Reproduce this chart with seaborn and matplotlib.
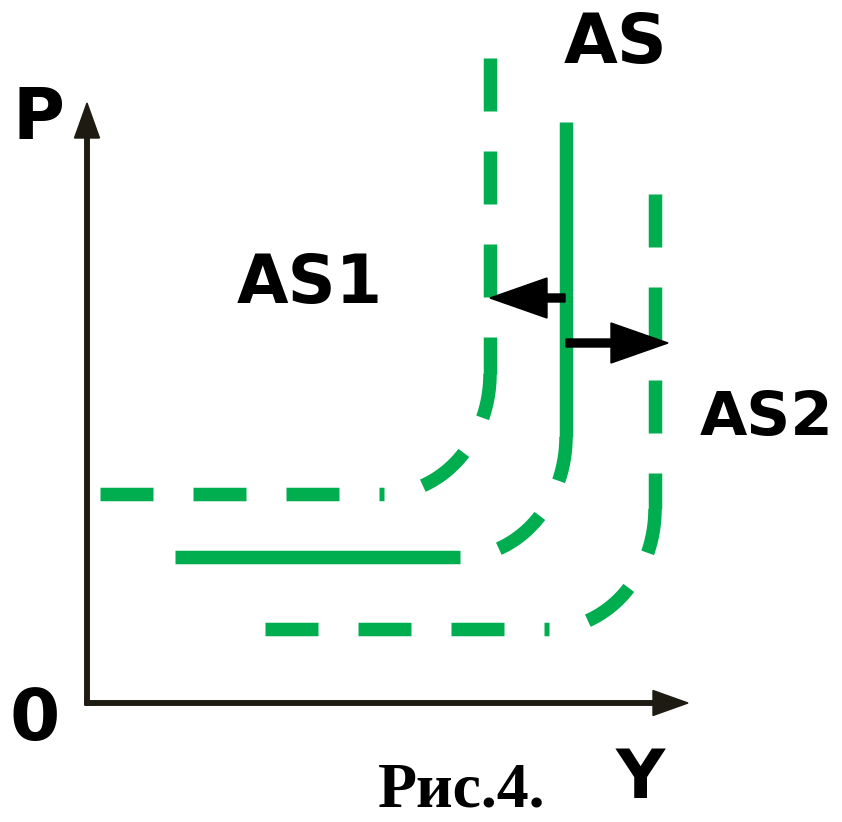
"""Aggregate supply shift diagram (AS -> AS1 / AS2), drawn in pixel-like coordinates."""
import matplotlib
matplotlib.use("Agg")
import matplotlib.pyplot as plt
import numpy as np
import pandas as pd
import seaborn as sns

GREEN = "#00ae50"
INK = "#1e1b13"

# curves: horizontal part at level_y from start_x, then a rounded corner, then
# a vertical part at vertical_x up to top_y
curve_names = ["AS1", "AS", "AS2"]
start_x = [100, 175, 265]
level_y = [494, 557, 629]
vertical_x = [490, 566, 655]
top_y = [58, 122, 194]
dashed = [True, False, True]
corner_rx = [106, 106, 106]
corner_ry = [120, 120, 120]

# shift arrows (from AS towards AS1 and AS2)
arrow_from_x = [565, 566]
arrow_to_x = [490, 668]
arrow_y = [298, 343]

# axes origin and arrow tips
origin = (87, 703)
p_axis_tip = 103
y_axis_tip = 688

labels = ["P", "AS", "AS1", "AS2", "0", "Y"]
label_x = [38, 616, 310, 767, 35, 640]
label_base = [139, 63, 303, 435, 740, 798]
label_size = [51, 50, 48, 44, 52, 49]


def corner_parts(i):
    cx = vertical_x[i] - corner_rx[i]
    cy = level_y[i] - corner_ry[i]
    t = np.linspace(np.pi / 2, 0, 60)
    horiz = pd.DataFrame({"x": [start_x[i], cx], "y": [level_y[i], level_y[i]]})
    arc = pd.DataFrame({"x": cx + corner_rx[i] * np.cos(t),
                        "y": cy + corner_ry[i] * np.sin(t)})
    vert = pd.DataFrame({"x": [vertical_x[i], vertical_x[i]], "y": [top_y[i], cy]})
    return horiz, arc, vert


sns.set_theme(style="white")
plt.rcParams["lines.scale_dashes"] = False

fig = plt.figure(figsize=(8.42, 8.22), dpi=100)
ax = fig.add_axes([0, 0, 1, 1])
ax.set_xlim(0, 842)
ax.set_ylim(822, 0)
ax.axis("off")

lw = 13.5 * 0.72
dash = (53 * 0.72, 40 * 0.72)
line_kw = dict(color=GREEN, lw=lw, sort=False, estimator=None, ax=ax,
               solid_capstyle="butt", dash_capstyle="butt")

for i, name in enumerate(curve_names):
    horiz, arc, vert = corner_parts(i)
    straight = (0, dash) if dashed[i] else "-"
    sns.lineplot(data=horiz, x="x", y="y", linestyle=straight, **line_kw)
    sns.lineplot(data=vert, x="x", y="y", linestyle=straight, **line_kw)
    # the corner is always drawn dashed, starting with a gap
    sns.lineplot(data=arc, x="x", y="y", linestyle=(dash[0], dash), **line_kw)

ax.set_xlim(0, 842)
ax.set_ylim(822, 0)
ax.set_xlabel(""); ax.set_ylabel("")

# coordinate axes
ax.arrow(origin[0], origin[1] + 2, 0, p_axis_tip - origin[1] - 2, width=4.5,
         head_width=25, head_length=35, length_includes_head=True, color=INK)
ax.arrow(origin[0] - 2, origin[1], y_axis_tip - origin[0] + 2, 0, width=4.5,
         head_width=25, head_length=35, length_includes_head=True, color=INK)

# shift arrows
for x0, x1, y in zip(arrow_from_x, arrow_to_x, arrow_y):
    ax.arrow(x0, y, x1 - x0, 0, width=8, head_width=40, head_length=57,
             length_includes_head=True, color="black", zorder=5)

for txt, x, yb, fs in zip(labels, label_x, label_base, label_size):
    ax.text(x, yb, txt, ha="center", va="baseline", fontsize=fs,
            fontweight="bold", family=["DejaVu Sans"], color="black")

ax.text(462, 820, "Рис.4.", ha="center", va="bottom", fontsize=46,
        fontweight="bold", family=["Liberation Serif", "DejaVu Serif"], color="black")

fig.savefig("out.png", dpi=100)
